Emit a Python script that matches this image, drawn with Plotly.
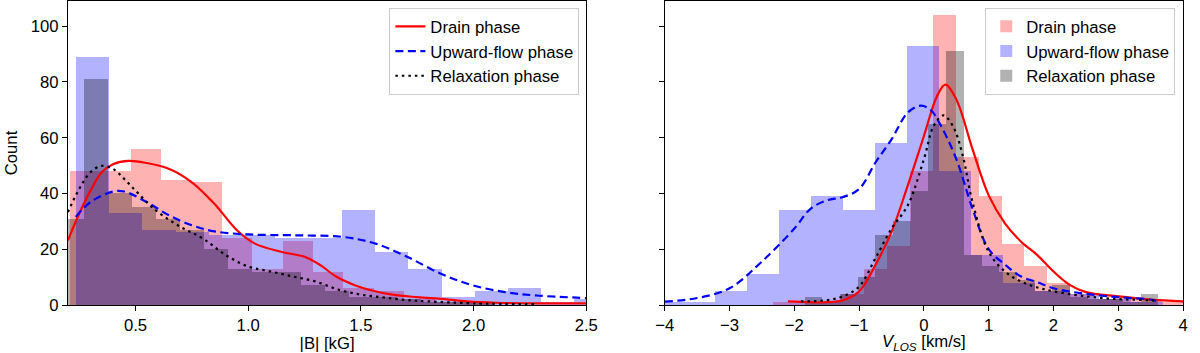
import plotly.graph_objects as go
from plotly.subplots import make_subplots

names = ["Drain phase", "Upward-flow phase", "Relaxation phase"]

# ---------------- Left panel: |B| [kG] ----------------
# histograms: bin start, bin width, counts
b_drain_start, b_drain_width = 0.2087, 0.1348
b_drain_counts = [48, 48, 56, 45, 44, 24, 13, 23, 12, 6, 5, 2, 1, 1, 0, 0, 0, 0]
b_up_start, b_up_width = 0.235, 0.1475
b_up_counts = [89, 33, 27, 26, 25, 25, 24, 24, 34, 19, 13, 3, 5, 6, 1, 2]
b_rel_start, b_rel_width = 0.1626, 0.107
b_rel_counts = [31, 81, 40, 35, 31, 27, 20, 13, 12, 12, 7, 5, 3, 3, 2, 1, 1, 1, 0]

# KDE curves
kde_b_drain_x = [0.2, 0.25, 0.3, 0.35, 0.4, 0.47, 0.55, 0.65, 0.75, 0.85, 0.95, 1.03, 1.15, 1.25,
                 1.32, 1.39, 1.47, 1.54, 1.64, 1.75, 1.87, 1.97, 2.1, 2.3, 2.5]
kde_b_drain_y = [23.2, 32.7, 41.0, 47.6, 50.5, 51.7, 50.9, 48.8, 44.0, 36.3, 26.8, 22.0, 19.0, 17.3,
                 14.3, 10.2, 7.2, 5.4, 3.7, 2.8, 2.1, 1.3, 0.8, 0.6, 0.6]
kde_b_up_x = [0.235, 0.3, 0.4, 0.45, 0.55, 0.65, 0.75, 0.85, 1.0, 1.2, 1.42, 1.565, 1.70, 1.85,
              1.99, 2.14, 2.28, 2.5]
kde_b_up_y = [31.6, 36.9, 40.7, 40.7, 36.9, 32.1, 28.6, 26.4, 25.3, 25.0, 24.4, 22.0, 17.5, 11.4,
              7.2, 4.6, 3.4, 2.5]
kde_b_rel_x = [0.2, 0.25, 0.3, 0.35, 0.4, 0.45, 0.5, 0.55, 0.6, 0.7, 0.8, 0.9, 1.0, 1.1, 1.2, 1.3,
               1.4, 1.5, 1.6, 1.7, 1.8, 2.0, 2.28]
kde_b_rel_y = [33.3, 41.6, 47.6, 49.9, 48.8, 45.2, 41.0, 36.9, 33.3, 28.0, 23.8, 17.9, 13.8, 12.0,
               10.2, 8.4, 5.5, 3.7, 2.7, 1.8, 1.3, 0.6, 0.3]

# ---------------- Right panel: V_LOS [km/s] ----------------
v_drain_start, v_drain_width = -2.340, 0.3535
v_drain_counts = [1, 1, 1, 4, 13, 21, 48, 104, 53, 39, 22, 14, 8, 4, 2, 3, 2, 1]
v_up_start, v_up_width = -4.215, 0.494
v_up_counts = [1, 1, 5, 11, 34, 39, 34, 58, 93, 48, 18, 8, 5, 4, 2, 1]
v_rel_start, v_rel_width = -1.844, 0.2729
v_rel_counts = [3, 1, 4, 10, 25, 30, 41, 65, 91, 18, 14, 12, 9, 5, 7, 3, 2, 2, 1, 4]

kde_v_drain_x = [-2.1, -1.75, -1.5, -1.25, -1.0, -0.75, -0.5, -0.25, 0.0, 0.2, 0.33, 0.5, 0.75, 1.0,
                 1.25, 1.5, 1.75, 2.0, 2.25, 2.5, 3.0, 3.5, 4.0]
kde_v_drain_y = [1.3, 1.0, 1.0, 1.7, 4.9, 14.3, 26.2, 42.8, 60.6, 74.8, 79.0, 73.7, 55.9, 39.3,
                 29.3, 22.7, 17.9, 12.0, 7.2, 4.6, 3.1, 1.9, 1.3]
kde_v_up_x = [-4.0, -3.5, -3.0, -2.5, -2.0, -1.75, -1.5, -1.25, -1.0, -0.75, -0.5, -0.25, -0.05, 0.1,
              0.25, 0.5, 0.75, 1.0, 1.25, 1.5, 1.75, 2.0, 2.5, 3.0, 3.5, 3.65]
kde_v_up_y = [1.2, 2.5, 6.0, 15.6, 27.4, 34.5, 37.5, 38.7, 41.6, 51.0, 59.4, 69.0, 71.5, 70.0,
              64.8, 52.3, 34.5, 20.0, 14.5, 10.2, 8.2, 6.0, 4.0, 2.8, 1.9, 1.0]
kde_v_rel_x = [-1.9, -1.5, -1.25, -1.0, -0.75, -0.5, -0.25, 0.0, 0.15, 0.3, 0.45, 0.6, 0.75, 1.0,
               1.25, 1.5, 1.75, 2.0, 2.5, 3.0, 3.5, 3.6]
kde_v_rel_y = [1.3, 1.7, 3.1, 6.6, 16.7, 27.4, 35.7, 52.3, 64.2, 68.0, 64.0, 53.5, 36.9, 19.0,
               12.0, 8.4, 6.3, 4.9, 3.1, 2.1, 1.7, 1.5]

bar_colors = ["rgba(255,0,0,0.3)", "rgba(0,0,255,0.3)", "rgba(0,0,0,0.3)"]
line_colors = ["#ff0000", "#0000ff", "#000000"]
line_dashes = ["solid", "8px,4.5px", "2.5px,4px"]

FONT = "Liberation Sans, Arial, sans-serif"
FS = 16.7

fig = make_subplots(rows=1, cols=2, shared_yaxes=True)


def add_hist(start, width, counts, i, col, legend_on):
    centers = [start + width * (k + 0.5) for k in range(len(counts))]
    fig.add_trace(go.Bar(x=centers, y=counts, width=[width] * len(counts),
                         marker=dict(color=bar_colors[i], line=dict(width=0)),
                         name=names[i], showlegend=legend_on, legend="legend2",
                         hoverinfo="skip"), row=1, col=col)


def add_kde(xs, ys, i, col, legend_on):
    fig.add_trace(go.Scatter(x=xs, y=ys, mode="lines", line_shape="spline",
                             line=dict(color=line_colors[i], width=2.2, dash=line_dashes[i]),
                             name=names[i], showlegend=legend_on, legend="legend",
                             hoverinfo="skip"), row=1, col=col)


add_hist(b_drain_start, b_drain_width, b_drain_counts, 0, 1, False)
add_hist(b_up_start, b_up_width, b_up_counts, 1, 1, False)
add_hist(b_rel_start, b_rel_width, b_rel_counts, 2, 1, False)
add_hist(v_drain_start, v_drain_width, v_drain_counts, 0, 2, True)
add_hist(v_up_start, v_up_width, v_up_counts, 1, 2, True)
add_hist(v_rel_start, v_rel_width, v_rel_counts, 2, 2, True)

add_kde(kde_b_drain_x, kde_b_drain_y, 0, 1, True)
add_kde(kde_b_up_x, kde_b_up_y, 1, 1, True)
add_kde(kde_b_rel_x, kde_b_rel_y, 2, 1, True)
add_kde(kde_v_drain_x, kde_v_drain_y, 0, 2, False)
add_kde(kde_v_up_x, kde_v_up_y, 1, 2, False)
add_kde(kde_v_rel_x, kde_v_rel_y, 2, 2, False)

axis_common = dict(showline=True, mirror=True, linecolor="black", linewidth=1,
                   ticks="outside", ticklen=5, tickwidth=1, tickcolor="black",
                   showgrid=False, zeroline=False,
                   tickfont=dict(family=FONT, size=FS, color="black"))

legend_common = dict(xanchor="right", y=0.977, yanchor="top",
                     bgcolor="rgba(255,255,255,0.8)", bordercolor="#cccccc", borderwidth=1,
                     font=dict(family=FONT, size=FS, color="black"), tracegroupgap=0,
                     itemwidth=30)

fig.update_layout(
    width=1200, height=353,
    margin=dict(l=0, r=0, t=1, b=46),
    plot_bgcolor="white", paper_bgcolor="white",
    barmode="overlay", bargap=0,
    font=dict(family=FONT, size=FS, color="black"),
    xaxis=dict(domain=[59 / 1200, 587 / 1200], range=[0.2, 2.5], tick0=0.5, dtick=0.5,
               tickformat=".1f",
               title=dict(text="|B| [kG]", font=dict(family=FONT, size=FS), standoff=6),
               **axis_common),
    xaxis2=dict(domain=[667 / 1200, 1195 / 1200], range=[-4, 4], dtick=1,
                title=dict(text="<i>V</i><sub><i>LOS</i></sub> [km/s]",
                           font=dict(family=FONT, size=FS), standoff=4),
                **axis_common),
    yaxis=dict(range=[0, 109], dtick=20,
               title=dict(text="Count", font=dict(family=FONT, size=FS), standoff=8),
               **axis_common),
    yaxis2=dict(range=[0, 109], dtick=20, showticklabels=False, **axis_common),
    legend=dict(x=580 / 1200, **legend_common),
    legend2=dict(x=1187 / 1200, **legend_common),
)

fig.write_html("out.html",
               config={"displayModeBar": False},
               post_script="document.body.style.margin='0px';"
                           "document.body.style.overflow='hidden';")
